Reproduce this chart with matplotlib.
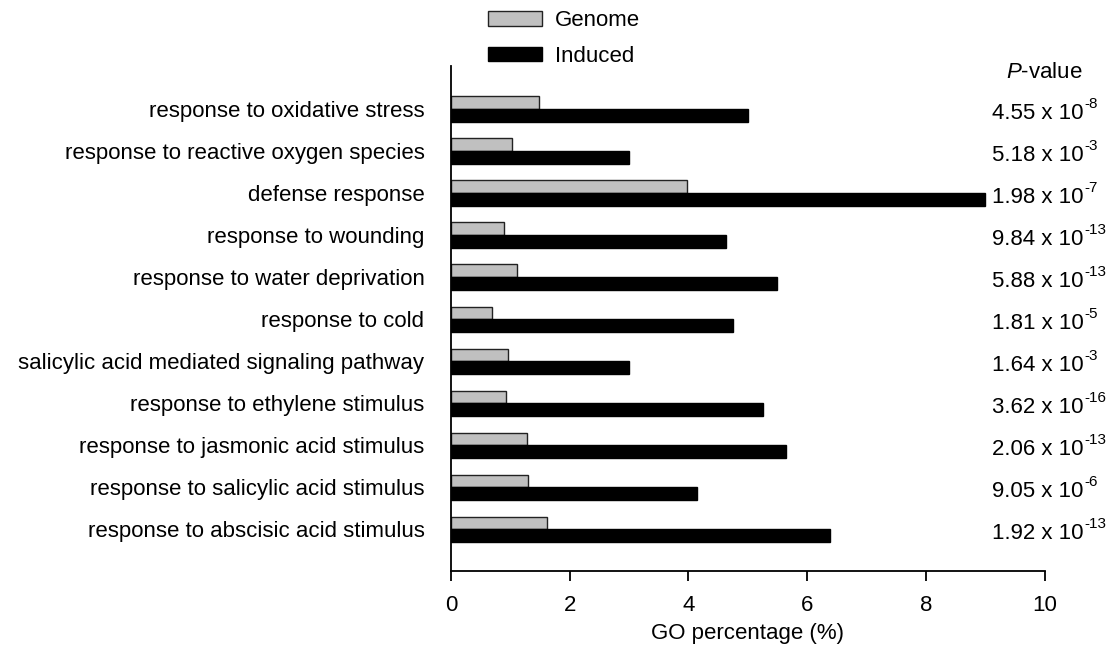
import numpy as np
import matplotlib
matplotlib.use('Agg')
import matplotlib.pyplot as plt

plt.rcParams['font.family'] = ['Liberation Sans', 'DejaVu Sans']
plt.rcParams['mathtext.fontset'] = 'custom'
plt.rcParams['mathtext.rm'] = 'Liberation Sans'
plt.rcParams['mathtext.it'] = 'Liberation Sans:italic'

# GO terms, top to bottom
terms = [
    'response to oxidative stress',
    'response to reactive oxygen species',
    'defense response',
    'response to wounding',
    'response to water deprivation',
    'response to cold',
    'salicylic acid mediated signaling pathway',
    'response to ethylene stimulus',
    'response to jasmonic acid stimulus',
    'response to salicylic acid stimulus',
    'response to abscisic acid stimulus',
]
genome = [1.48, 1.03, 3.98, 0.90, 1.11, 0.69, 0.96, 0.93, 1.28, 1.30, 1.62]
induced = [5.0, 3.0, 9.0, 4.63, 5.5, 4.75, 3.0, 5.25, 5.64, 4.14, 6.39]
p_mant = ['4.55', '5.18', '1.98', '9.84', '5.88', '1.81', '1.64', '3.62', '2.06', '9.05', '1.92']
p_exp = ['-8', '-3', '-7', '-13', '-13', '-5', '-3', '-16', '-13', '-6', '-13']

fs = 16
fig = plt.figure(figsize=(11.16, 6.48), dpi=100)
ax = fig.add_axes([0.404, 0.119, 0.532, 0.779])

y = np.arange(len(terms))
h = 0.30
ax.barh(y - h / 2, genome, height=h, color='#c0c0c0', edgecolor='#222222', linewidth=1, label='Genome')
ax.barh(y + h / 2, induced, height=h, color='black', edgecolor='black', linewidth=1, label='Induced')

ax.set_xlim(0, 10)
ax.set_ylim(len(terms) - 1 + 0.99, -1.02)
ax.set_xticks(np.arange(0, 11, 2))
ax.set_yticks(y)
ax.set_yticklabels(terms, fontsize=fs)
ax.tick_params(axis='y', length=0, pad=19)
ax.tick_params(axis='x', direction='out', length=7.5, width=1.3, labelsize=fs, pad=10)
ax.set_xlabel('GO percentage (%)', fontsize=fs, labelpad=5)
for s in ['top', 'right']:
    ax.spines[s].set_visible(False)
for s in ['left', 'bottom']:
    ax.spines[s].set_linewidth(1.3)

# P-values column, superscript exponent drawn as its own small text
for i in range(len(terms)):
    t = ax.text(9.12, i + 0.1, p_mant[i] + ' x 10', fontsize=fs,
                ha='left', va='center', clip_on=False)
    ax.annotate(p_exp[i], xy=(1.0, 0.6), xycoords=t, xytext=(0.5, 0),
                textcoords='offset points', fontsize=11, ha='left', va='bottom')
ax.text(10.0, -0.86, r'$\mathit{P}$-value', fontsize=fs, ha='center', va='center', clip_on=False)

fig.legend(loc='upper left', bbox_to_anchor=(0.4373, 0.984), frameon=False, fontsize=fs,
           handlelength=2.45, handleheight=0.63, labelspacing=0.64, handletextpad=0.55,
           borderpad=0, borderaxespad=0)

fig.savefig('out.png', dpi=100)
